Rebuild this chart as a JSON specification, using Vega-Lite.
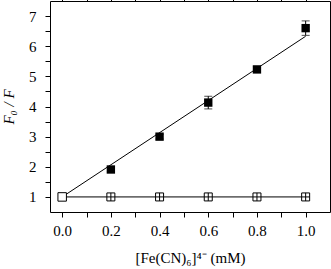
{
  "$schema": "https://vega.github.io/schema/vega-lite/v6.json",
  "width": 280,
  "height": 211,
  "autosize": {"type": "none"},
  "padding": {"left": 50, "top": 1, "right": 1, "bottom": 57},
  "background": "white",
  "config": {
    "view": {"stroke": null},
    "axis": {
      "grid": false,
      "labelFont": "Liberation Serif",
      "labelFontSize": 15,
      "labelColor": "black",
      "titleFont": "Liberation Serif",
      "titleFontSize": 15,
      "titleFontWeight": "normal",
      "titleColor": "black",
      "domainColor": "black",
      "tickColor": "black",
      "tickWidth": 1,
      "labelOverlap": false
    }
  },
  "datasets": {
    "filled": [
      {"c": 0.2, "r": 1.91, "lo": 1.83, "hi": 1.99},
      {"c": 0.4, "r": 3.0, "lo": 2.92, "hi": 3.08},
      {"c": 0.6, "r": 4.13, "lo": 3.92, "hi": 4.34},
      {"c": 0.8, "r": 5.23, "lo": 5.13, "hi": 5.33},
      {"c": 1.0, "r": 6.6, "lo": 6.36, "hi": 6.84}
    ],
    "open0": [{"c": 0.0, "r": 1.0}],
    "crossed": [
      {"c": 0.2, "r": 1.0},
      {"c": 0.4, "r": 1.0},
      {"c": 0.6, "r": 1.0},
      {"c": 0.8, "r": 1.0},
      {"c": 1.0, "r": 1.0}
    ],
    "fit": [
      {"c": 0.0, "r": 1.0, "s": "quenched"},
      {"c": 1.0, "r": 6.33, "s": "quenched"},
      {"c": 0.0, "r": 1.0, "s": "control"},
      {"c": 1.0, "r": 1.0, "s": "control"}
    ]
  },
  "resolve": {"axis": {"x": "independent", "y": "independent"}},
  "layer": [
    {
      "data": {"name": "fit"},
      "mark": {"type": "line", "color": "black", "strokeWidth": 1},
      "encoding": {
        "x": {
          "field": "c", "type": "quantitative",
          "scale": {"domain": [-0.05, 1.1], "nice": false, "zero": false},
          "axis": {
            "orient": "bottom",
            "title": "[Fe(CN)₆]⁴⁻ (mM)",
            "values": [0, 0.1, 0.2, 0.3, 0.4, 0.5, 0.6, 0.7, 0.8, 0.9, 1.0],
            "tickSize": 5,
            "labelExpr": "abs(datum.value*5 - round(datum.value*5)) < 0.001 ? format(datum.value, '.1f') : ''",
            "labelPadding": 6,
            "titlePadding": 12,
            "encode": {"ticks": {"update": {"y2": {"signal": "abs(datum.value*5 - round(datum.value*5)) < 0.001 ? 5 : 3"}}}}
          }
        },
        "y": {
          "field": "r", "type": "quantitative",
          "scale": {"domain": [0.5, 7.5], "nice": false, "zero": false},
          "axis": {
            "orient": "left",
            "title": "F₀ / F",
            "titleFontStyle": "italic",
            "values": [1, 1.5, 2, 2.5, 3, 3.5, 4, 4.5, 5, 5.5, 6, 6.5, 7],
            "tickSize": 5,
            "labelExpr": "abs(datum.value - round(datum.value)) < 0.001 ? format(datum.value, 'd') : ''",
            "labelPadding": 9,
            "titlePadding": 12,
            "encode": {"ticks": {"update": {"x2": {"signal": "abs(datum.value - round(datum.value)) < 0.001 ? -5 : -3"}}}}
          }
        },
        "detail": {"field": "s"}
      }
    },
    {
      "data": {"name": "filled"},
      "mark": {"type": "rule", "color": "black", "strokeWidth": 1},
      "encoding": {
        "x": {
          "field": "c", "type": "quantitative",
          "scale": {"domain": [-0.05, 1.1], "nice": false, "zero": false},
          "axis": {
            "orient": "top", "title": null, "labels": false,
            "values": [0, 0.1, 0.2, 0.3, 0.4, 0.5, 0.6, 0.7, 0.8, 0.9, 1.0],
            "tickSize": 5,
            "encode": {"ticks": {"update": {"y2": {"signal": "abs(datum.value*5 - round(datum.value*5)) < 0.001 ? 5 : 3"}}}}
          }
        },
        "y": {
          "field": "lo", "type": "quantitative",
          "scale": {"domain": [0.5, 7.5], "nice": false, "zero": false},
          "axis": {
            "orient": "right", "title": null, "labels": false,
            "values": [1, 1.5, 2, 2.5, 3, 3.5, 4, 4.5, 5, 5.5, 6, 6.5, 7],
            "tickSize": 5,
            "encode": {"ticks": {"update": {"x2": {"signal": "abs(datum.value - round(datum.value)) < 0.001 ? -5 : -3"}}}}
          }
        },
        "y2": {"field": "hi"}
      }
    },
    {
      "data": {"name": "filled"},
      "mark": {"type": "tick", "orient": "horizontal", "color": "black", "size": 8, "thickness": 1},
      "encoding": {
        "x": {"field": "c", "type": "quantitative", "axis": null},
        "y": {"field": "lo", "type": "quantitative", "axis": null}
      }
    },
    {
      "data": {"name": "filled"},
      "mark": {"type": "tick", "orient": "horizontal", "color": "black", "size": 8, "thickness": 1},
      "encoding": {
        "x": {"field": "c", "type": "quantitative", "axis": null},
        "y": {"field": "hi", "type": "quantitative", "axis": null}
      }
    },
    {
      "data": {"name": "filled"},
      "mark": {"type": "point", "shape": "square", "filled": true, "color": "black", "size": 70, "opacity": 1},
      "encoding": {
        "x": {"field": "c", "type": "quantitative", "axis": null},
        "y": {"field": "r", "type": "quantitative", "axis": null}
      }
    },
    {
      "data": {"name": "open0"},
      "mark": {"type": "point", "shape": "square", "filled": false, "fill": "white", "fillOpacity": 1, "stroke": "black", "strokeWidth": 1, "size": 72, "opacity": 1},
      "encoding": {
        "x": {"field": "c", "type": "quantitative", "axis": null},
        "y": {"field": "r", "type": "quantitative", "axis": null}
      }
    },
    {
      "data": {"name": "crossed"},
      "mark": {"type": "point", "shape": "M-1,-1H1V1H-1Z M0,-1V1 M-1,0H1", "filled": false, "fill": "white", "fillOpacity": 1, "stroke": "black", "strokeWidth": 1, "size": 64, "opacity": 1},
      "encoding": {
        "x": {"field": "c", "type": "quantitative", "axis": null},
        "y": {"field": "r", "type": "quantitative", "axis": null}
      }
    }
  ]
}
